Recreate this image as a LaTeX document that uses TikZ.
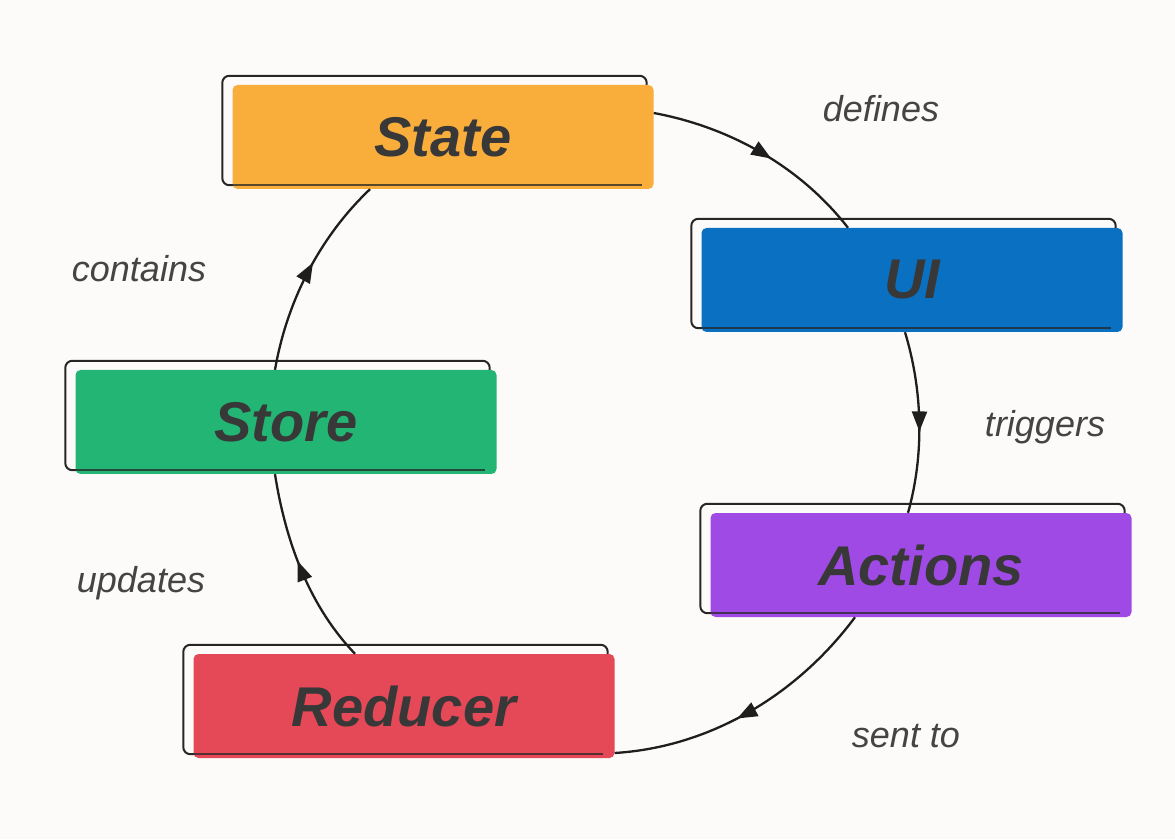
\documentclass[tikz,border=0pt]{standalone}
\usepackage{fontspec}
\setmainfont{Liberation Sans}
\usetikzlibrary{arrows.meta,decorations.markings,backgrounds}
\definecolor{bgc}{HTML}{FDFBF9}
\definecolor{cstate}{HTML}{F9AE3B}
\definecolor{cui}{HTML}{0A70C2}
\definecolor{cstore}{HTML}{22B573}
\definecolor{cactions}{HTML}{A04AE6}
\definecolor{creducer}{HTML}{E54857}
\definecolor{boxtext}{HTML}{383838}
\definecolor{lblgray}{HTML}{444444}
\definecolor{linec}{HTML}{1E1E1E}
\newcommand\myskframe[1]{%
  \begin{scope}[on background layer]
  \draw[outl] ([shift={(-10,9)}]#1.north west) rectangle ([shift={(-7,4)}]#1.south east);
  \end{scope}
  \draw[outl, draw opacity=0.75, rounded corners=0pt] ([shift={(0,4)}]#1.south west) -- ([shift={(-12,4)}]#1.south east);}
\begin{document}
\begin{tikzpicture}[x=1pt,y=1pt,
  box/.style={rounded corners=5pt, minimum width=421pt, minimum height=104pt,
    inner sep=0pt, text=boxtext, font=\fontsize{56}{60}\selectfont\bfseries\itshape},
  outl/.style={draw=black!85, line width=2pt, rounded corners=7pt},
  flow/.style={draw=linec, line width=2.3pt, postaction={decorate},
    decoration={markings, mark=at position 0.55 with {\arrow{Triangle[length=20pt,width=15pt]}}}},
  lbl/.style={text=lblgray, font=\fontsize{36}{40}\selectfont\itshape, anchor=base}]
\begin{scope}[on background layer]
\fill[bgc] (0,0) rectangle (1175,839);
\end{scope}
\useasboundingbox (0,0) rectangle (1175,839);

\node[box, fill=cstate]   (state)   at (443,702) {State};
\node[box, fill=cui]      (ui)      at (912,559) {UI};
\node[box, fill=cstore]   (store)   at (286,417) {Store};
\node[box, fill=cactions] (actions) at (921,274) {Actions};
\node[box, fill=creducer] (reducer) at (404,133) {Reducer};

\myskframe{state}
\myskframe{ui}
\myskframe{store}
\myskframe{actions}
\myskframe{reducer}

\draw[flow] ([yshift=24]state.east) to[out=-10.5, in=127.9, looseness=0.88] ([xshift=-64]ui.north);
\draw[flow] ([xshift=-7]ui.south) to[out=-73.1, in=74.3, looseness=0.86] ([xshift=-13]actions.north);
\draw[flow] ([xshift=-66]actions.south) to[out=-126.6, in=3.5, looseness=0.89] ([yshift=-47]reducer.east);
\draw[flow] ([xshift=-49]reducer.north) to[out=133.8, in=-81.1, looseness=0.87] ([xshift=-11]store.south);
\draw[flow] ([xshift=-11]store.north) to[out=80.2, in=223.5, looseness=0.87] ([xshift=-73]state.south);

\node[lbl] (l1) at (881,717) {defines};
\node[lbl] (l2) at (1045,402) {triggers};
\node[lbl] (l3) at (906,92) {sent to};
\node[lbl] (l4) at (139,557) {contains};
\node[lbl] (l5) at (141,247) {updates};
\end{tikzpicture}
\end{document}
